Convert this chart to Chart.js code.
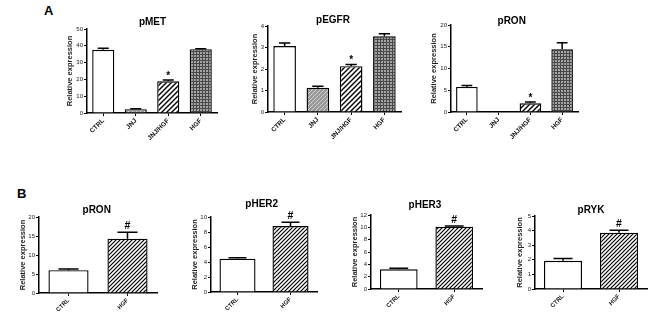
<!DOCTYPE html>
<html><head><meta charset="utf-8">
<script src="https://cdn.jsdelivr.net/npm/chart.js@4.4.1/dist/chart.umd.min.js"></script>
<style>
html,body{margin:0;padding:0;background:#fff;}
#wrap{position:relative;width:650px;height:314px;overflow:hidden;background:#fff;font-family:Arial,"Liberation Sans",sans-serif;}
canvas{position:absolute;}
.lbl{position:absolute;font-weight:bold;font-size:13px;line-height:13px;color:#000;font-family:Arial,"Liberation Sans",sans-serif;}
</style></head><body>
<div id="wrap">
<div class="lbl" style="left:44px;top:4px">A</div>
<div class="lbl" style="left:17px;top:187px">B</div>
</div>
<script>
// ---- data ----
const categoriesA = ['CTRL', 'JNJ', 'JNJ/HGF', 'HGF'];
const categoriesB = ['CTRL', 'HGF'];
const yTitle = 'Relative expression';

const pMET_values = [37.6, 2.3, 18.9, 38.0];
const pMET_errors = [1.0, 0.2, 0.7, 0.2];
const pMET_marks  = ['', '', '*', ''];

const pEGFR_values = [3.07, 1.13, 2.13, 3.52];
const pEGFR_errors = [0.14, 0.07, 0.08, 0.12];
const pEGFR_marks  = ['', '', '*', ''];

const pRON_A_values = [5.77, 0, 2.0, 14.4];
const pRON_A_errors = [0.3, 0, 0.3, 1.5];
const pRON_A_marks  = ['', '', '*', ''];

const pRON_B_values = [6.0, 14.3];
const pRON_B_errors = [0.3, 1.7];
const pHER2_values = [4.45, 8.8];
const pHER2_errors = [0.12, 0.5];
const pHER3_values = [3.2, 10.1];
const pHER3_errors = [0.15, 0.12];
const pRYK_values = [1.93, 3.86];
const pRYK_errors = [0.16, 0.17];
const marksB = ['', '#'];

// ---- patterns ----
function tile(size, draw) {
  const c = document.createElement('canvas');
  c.width = size; c.height = size;
  const g = c.getContext('2d');
  draw(g, size);
  return document.createElement('canvas').getContext('2d').createPattern(c, 'repeat');
}
function hatch(size, bg, fg, lw) {
  return tile(size, (g, s) => {
    g.fillStyle = bg; g.fillRect(0, 0, s, s);
    g.strokeStyle = fg; g.lineWidth = lw;
    g.beginPath();
    g.moveTo(-1, 1); g.lineTo(1, -1);
    g.moveTo(0, s); g.lineTo(s, 0);
    g.moveTo(s - 1, s + 1); g.lineTo(s + 1, s - 1);
    g.stroke();
  });
}
const fillWhite = '#ffffff';
const fillGrayHatch = hatch(4, '#989898', '#d0d0d0', 1);
const fillBlackHatch = hatch(5, '#ffffff', '#000000', 1.4);
const fillBlackHatchB = hatch(4, '#ffffff', '#000000', 1.2);
const fillMesh = tile(3, (g, s) => {
  g.fillStyle = '#484848'; g.fillRect(0, 0, s, s);
  g.fillStyle = '#a4a4a4'; g.fillRect(1, 1, 2, 2);
});
const fillsA = [fillWhite, fillGrayHatch, fillBlackHatch, fillMesh];
const fillsB = [fillWhite, fillBlackHatchB];

// ---- layout ----
const Y_W = 26, PAD_T = 26, PAD_R = 6, X_H = 32;
const FONT = 'Arial, "Liberation Sans", sans-serif';

const panels = [
  {title:'pMET',  labels:categoriesA, values:pMET_values,  errors:pMET_errors,  marks:pMET_marks,  fills:fillsA, max:50, step:10,
   box:{l:87, r:217, t:29, b:113}, tx:152.5, ty:24.7, gap:17, xfont:6.5},
  {title:'pEGFR', labels:categoriesA, values:pEGFR_values, errors:pEGFR_errors, marks:pEGFR_marks, fills:fillsA, max:4, step:1,
   box:{l:268, r:401, t:26, b:112}, tx:333, ty:23, gap:13, xfont:6.5},
  {title:'pRON',  labels:categoriesA, values:pRON_A_values, errors:pRON_A_errors, marks:pRON_A_marks, fills:fillsA, max:20, step:5,
   box:{l:451, r:578, t:25, b:112}, tx:511.7, ty:24, gap:17, xfont:6.5},
  {title:'pRON',  labels:categoriesB, values:pRON_B_values, errors:pRON_B_errors, marks:marksB, fills:fillsB, max:20, step:5,
   box:{l:39, r:157, t:217, b:293}, tx:96.7, ty:213, gap:16, xfont:6},
  {title:'pHER2', labels:categoriesB, values:pHER2_values, errors:pHER2_errors, marks:marksB, fills:fillsB, max:10, step:2,
   box:{l:211, r:317, t:217, b:292}, tx:261.7, ty:207, gap:16, xfont:6},
  {title:'pHER3', labels:categoriesB, values:pHER3_values, errors:pHER3_errors, marks:marksB, fills:fillsB, max:12, step:2,
   box:{l:371, r:482, t:215, b:289}, tx:425, ty:208, gap:16, xfont:6},
  {title:'pRYK',  labels:categoriesB, values:pRYK_values, errors:pRYK_errors, marks:marksB, fills:fillsB, max:5, step:1,
   box:{l:535, r:647, t:216, b:289}, tx:591, ty:213, gap:15, xfont:6}
];

const wrap = document.getElementById('wrap');

function makePanel(p) {
  const c = document.createElement('canvas');
  const cl = p.box.l - Y_W, ct = p.box.t - PAD_T;
  c.width = p.box.r - p.box.l + Y_W + PAD_R;
  c.height = p.box.b - p.box.t + PAD_T + X_H;
  c.style.left = cl + 'px';
  c.style.top = ct + 'px';
  c.style.width = c.width + 'px';
  c.style.height = c.height + 'px';
  wrap.appendChild(c);

  const deco = {
    id: 'deco',
    afterDatasetsDraw(chart) {
      const ctx = chart.ctx;
      const ys = chart.scales.y;
      const meta = chart.getDatasetMeta(0);
      ctx.save();
      ctx.strokeStyle = '#000';
      ctx.fillStyle = '#000';
      ctx.lineWidth = 1.5;
      meta.data.forEach((bar, i) => {
        const v = p.values[i], e = p.errors[i];
        if (!(v > 0)) return;
        const yb = ys.getPixelForValue(v);
        const yt = ys.getPixelForValue(v + e);
        const hw = bar.width * 0.25;
        ctx.beginPath();
        ctx.moveTo(bar.x, yb); ctx.lineTo(bar.x, yt);
        ctx.moveTo(bar.x - hw, yt); ctx.lineTo(bar.x + hw, yt);
        ctx.stroke();
        const m = p.marks[i];
        if (m) {
          ctx.textAlign = 'center';
          ctx.textBaseline = 'alphabetic';
          if (m === '*') {
            ctx.font = 'bold 10px ' + FONT;
            ctx.fillText(m, bar.x, yt - 1.2);
          } else {
            ctx.font = 'bold 10.5px ' + FONT;
            ctx.fillText(m, bar.x, yt - 3);
          }
        }
      });
      ctx.font = 'bold 10px ' + FONT;
      ctx.textAlign = 'center';
      ctx.textBaseline = 'alphabetic';
      ctx.fillText(p.title, p.tx - cl, p.ty - ct);
      ctx.restore();
    }
  };

  new Chart(c, {
    type: 'bar',
    data: {
      labels: p.labels,
      datasets: [{
        data: p.values,
        backgroundColor: p.fills,
        borderColor: '#000',
        borderWidth: 1.4,
        barPercentage: 0.68,
        categoryPercentage: 1
      }]
    },
    options: {
      responsive: false,
      animation: false,
      devicePixelRatio: 1,
      layout: {padding: {left: 0, top: PAD_T, right: PAD_R, bottom: 0}},
      plugins: {legend: {display: false}, tooltip: {enabled: false}, title: {display: false}},
      scales: {
        x: {
          grid: {display: true, drawOnChartArea: false, drawTicks: true, tickLength: 3, offset: false, color: '#000', lineWidth: 1},
          border: {display: true, color: '#000', width: 1.5},
          ticks: {minRotation: 45, maxRotation: 45, autoSkip: false, padding: 1, color: '#111',
                  font: {family: FONT, size: p.xfont, weight: 'bold'}},
          afterFit(s) { s.height = X_H; }
        },
        y: {
          min: 0, max: p.max,
          ticks: {stepSize: p.step, padding: 1, color: '#222', font: {family: FONT, size: 6}},
          grid: {display: true, drawOnChartArea: false, drawTicks: true, tickLength: 3, color: '#000', lineWidth: 1},
          border: {display: true, color: '#000', width: 1.5},
          title: {display: true, text: yTitle, color: '#222',
                  font: {family: FONT, size: 7.5, weight: 'bold'},
                  padding: {top: Y_W - p.gap - 4.5, bottom: 0}},
          afterFit(s) { s.width = Y_W; }
        }
      }
    },
    plugins: [deco]
  });
}
panels.forEach(makePanel);
</script>
</body></html>
